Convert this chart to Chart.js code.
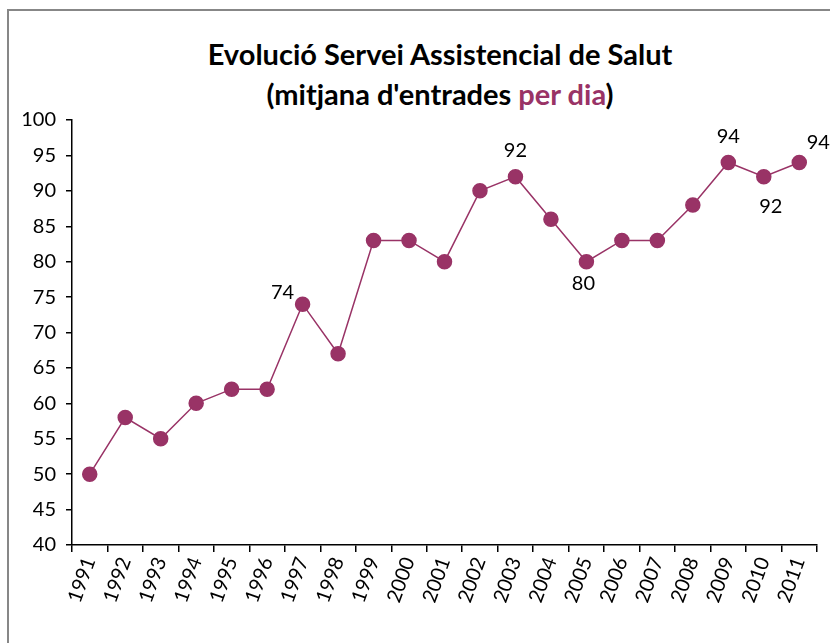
<!DOCTYPE html>
<html>
<head>
<meta charset="utf-8">
<script src="https://cdn.jsdelivr.net/npm/chart.js@4"></script>
<style>
  body { margin: 0; background: #fff; }
  #wrap { position: relative; width: 830px; height: 643px; overflow: hidden; }
  #frame { position: absolute; left: 7px; top: 9px; width: 900px; height: 700px; border: 2px solid #878787; }
  #title { position: absolute; left: 0; width: 880px; top: 34px; text-align: center;
           font-family: Lato, sans-serif; font-weight: bold; font-size: 29px; line-height: 40px; color: #000; }
  #title span { color: #993366; }
  canvas { position: absolute; left: 0; top: 0; }
</style>
</head>
<body>
<div id="wrap">
  <div id="frame"></div>
  <div id="title">Evolució Servei Assistencial de Salut<br>(mitjana d'entrades <span>per dia</span>)</div>
  <canvas id="myChart" width="830" height="643"></canvas>
</div>
<script>
let years = ['1991','1992','1993','1994','1995','1996','1997','1998','1999','2000','2001','2002','2003','2004','2005','2006','2007','2008','2009','2010','2011'];
let values = [50, 58, 55, 60, 62, 62, 74, 67, 83, 83, 80, 90, 92, 86, 80, 83, 83, 88, 94, 92, 94];
// where a value label is shown ('' = none)
let labelSide = ['', '', '', '', '', '', 'left', '', '', '', '', '', 'above', '', 'below', '', '', '', 'above', 'below', 'right'];
let mainColor = '#993366';

// draws the few value labels next to their points
let pointLabels = {
  id: 'pointLabels',
  afterDatasetsDraw(chart) {
    let ctx = chart.ctx;
    let meta = chart.getDatasetMeta(0);
    ctx.save();
    ctx.font = '20px Lato, sans-serif';
    ctx.fillStyle = '#000';
    ctx.textAlign = 'center';
    ctx.textBaseline = 'middle';
    meta.data.forEach((pt, i) => {
      let side = labelSide[i];
      if (!side) return;
      let x = pt.x, y = pt.y;
      if (side == 'above') { y -= 26; }
      if (side == 'below') { y += 22; x -= 3; }
      if (side == 'left') { x -= 20; y -= 12; }
      if (side == 'right') { x += 19; y -= 20; }
      if (side == 'below' && i == 19) { x += 10; y += 8; }
      ctx.fillText(values[i], x, y);
    });
    ctx.restore();
  }
};

let mychart = new Chart(document.getElementById('myChart'), {
  type: 'line',
  data: {
    labels: years,
    datasets: [{
      data: values,
      borderColor: mainColor,
      backgroundColor: mainColor,
      borderWidth: 1.5,
      pointRadius: 7,
      pointBackgroundColor: mainColor,
      pointBorderColor: mainColor,
      fill: false,
      tension: 0
    }]
  },
  options: {
    responsive: false,
    animation: false,
    layout: { padding: { top: 120, left: 8, right: 13, bottom: 0 } },
    plugins: { legend: { display: false }, title: { display: false }, tooltip: { enabled: false } },
    scales: {
      x: {
        offset: true,
        grid: { offset: true, drawOnChartArea: false, drawTicks: true, tickLength: 7, color: '#000', lineWidth: 1.5 },
        border: { color: '#000', width: 1.5 },
        ticks: { color: '#000', font: { family: 'Lato, sans-serif', size: 20 }, minRotation: 70, maxRotation: 70, padding: 2 },
        afterFit(scale) { scale.height = 98; }
      },
      y: {
        min: 40, max: 100,
        ticks: { stepSize: 5, color: '#000', font: { family: 'Lato, sans-serif', size: 20 }, padding: 10 },
        grid: { drawOnChartArea: false, drawTicks: true, tickLength: 6, color: '#000', lineWidth: 1.5 },
        border: { color: '#000', width: 1.5 },
        afterFit(scale) { scale.width = 64; }
      }
    }
  },
  plugins: [pointLabels]
});
</script>
</body>
</html>
